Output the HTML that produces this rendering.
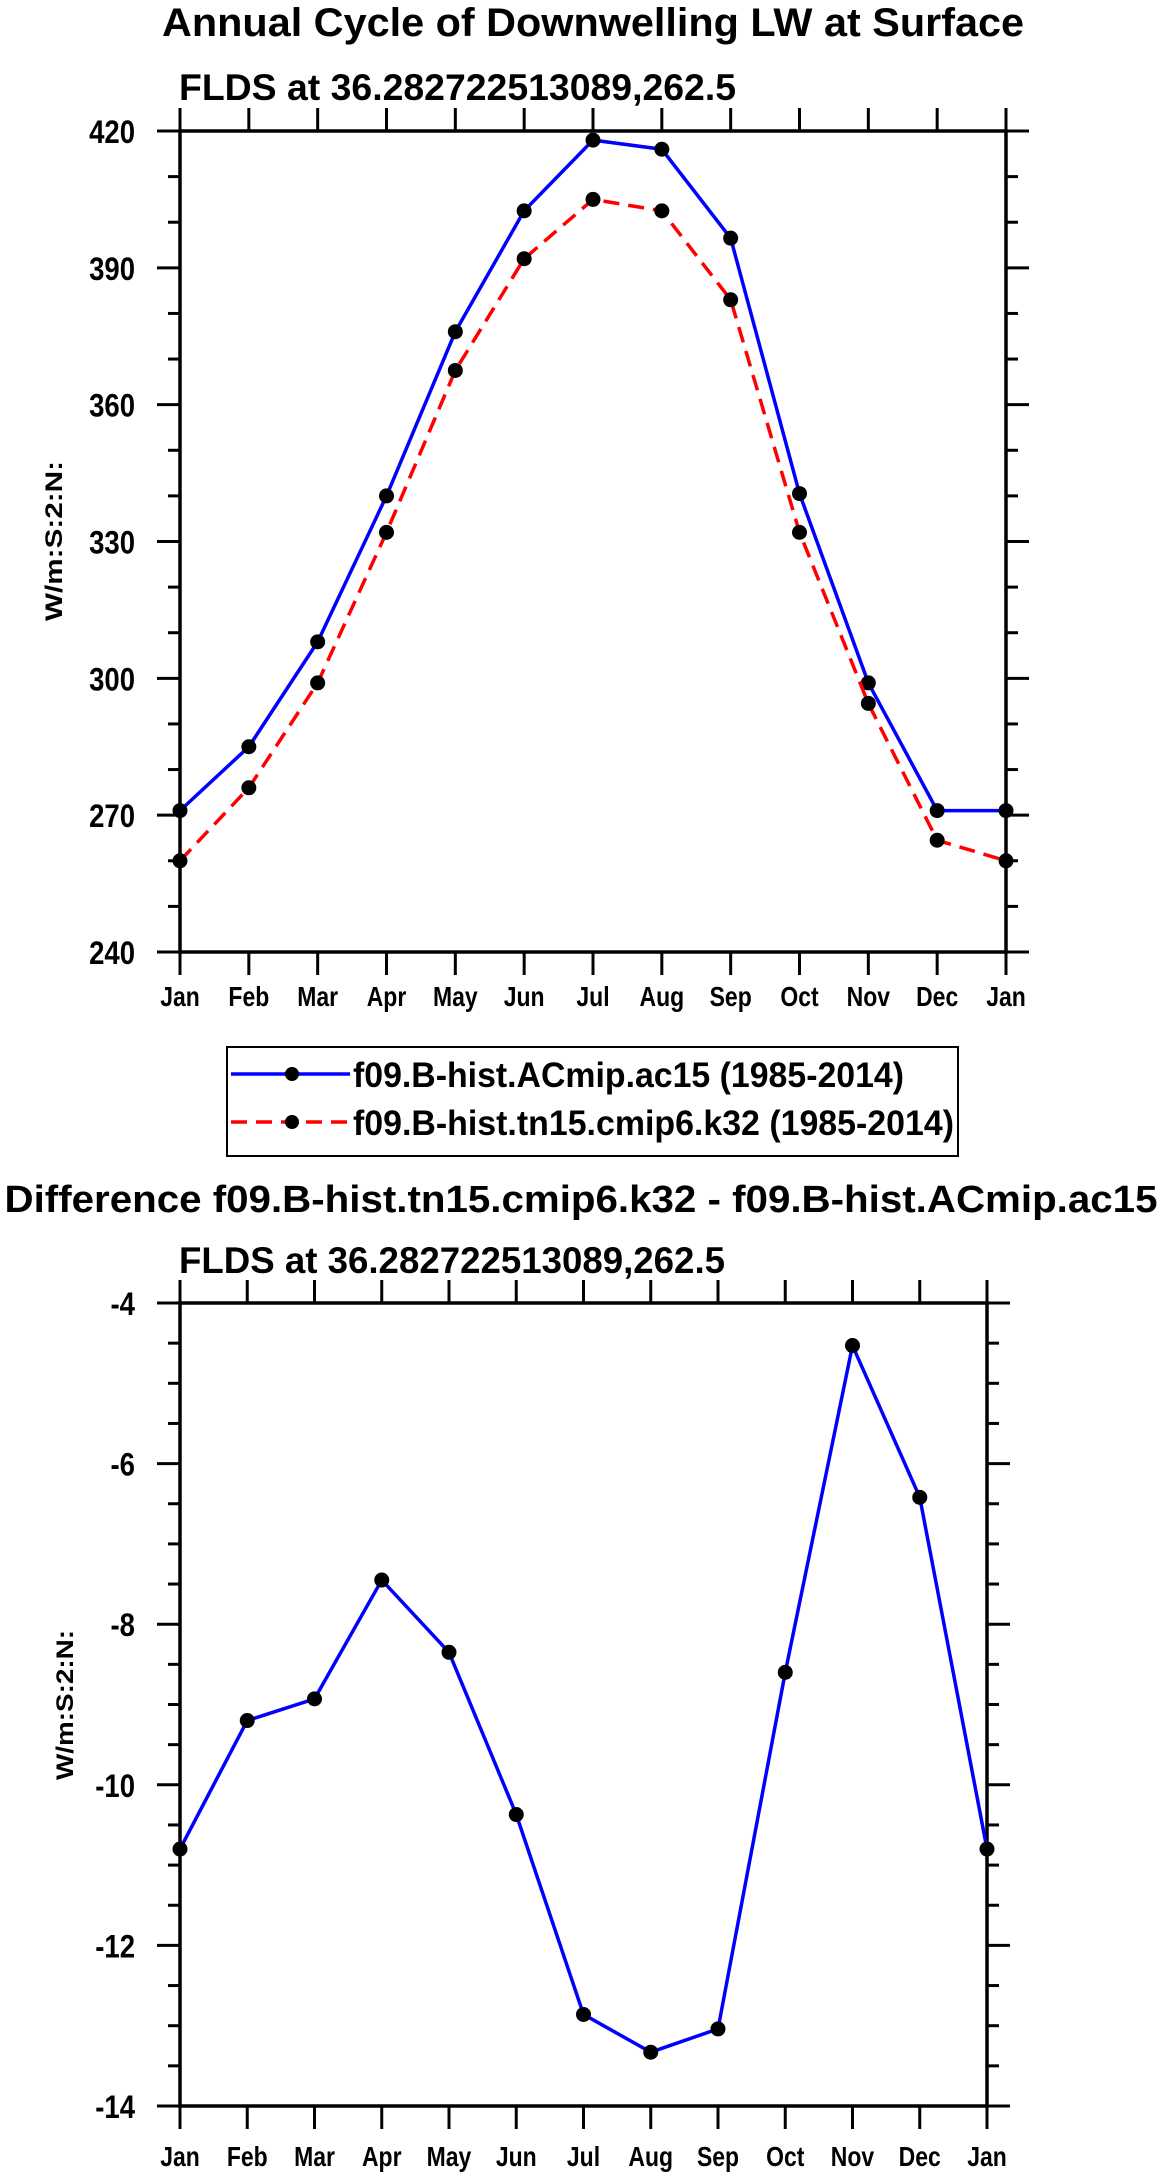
<!DOCTYPE html>
<html><head><meta charset="utf-8"><style>
html,body{margin:0;padding:0;background:#fff;}
svg{display:block;font-family:"Liberation Sans",sans-serif;font-weight:bold;}
</style></head><body>
<svg id="s" width="1161" height="2179" viewBox="0 0 1161 2179">
<text x="593" y="36" font-size="40" text-anchor="middle" textLength="862" lengthAdjust="spacingAndGlyphs">Annual Cycle of Downwelling LW at Surface</text>
<text x="179" y="100" font-size="37" textLength="557" lengthAdjust="spacingAndGlyphs">FLDS at 36.282722513089,262.5</text>
<text x="0" y="0" font-size="24" text-anchor="middle" textLength="160" lengthAdjust="spacingAndGlyphs" transform="translate(62,541) rotate(-90)">W/m:S:2:N:</text>
<g id="top"></g>
<g>
<rect x="227" y="1047" width="731" height="109" fill="none" stroke="#000" stroke-width="2"/>
<line x1="231" y1="1074" x2="350" y2="1074" stroke="#0000ff" stroke-width="3.5"/>
<circle cx="292" cy="1074" r="7" fill="#000"/>
<text x="353" y="1087" font-size="35" textLength="551" lengthAdjust="spacingAndGlyphs">f09.B-hist.ACmip.ac15 (1985-2014)</text>
<line x1="231" y1="1122" x2="350" y2="1122" stroke="#ff0000" stroke-width="3.5" stroke-dasharray="16,9"/>
<circle cx="292" cy="1122" r="7" fill="#000"/>
<text x="353" y="1135" font-size="35" textLength="601" lengthAdjust="spacingAndGlyphs">f09.B-hist.tn15.cmip6.k32 (1985-2014)</text>
</g>
<text x="581" y="1212" font-size="38" text-anchor="middle" textLength="1153" lengthAdjust="spacingAndGlyphs">Difference f09.B-hist.tn15.cmip6.k32 - f09.B-hist.ACmip.ac15</text>
<text x="179" y="1273" font-size="37" textLength="546" lengthAdjust="spacingAndGlyphs">FLDS at 36.282722513089,262.5</text>
<text x="0" y="0" font-size="24" text-anchor="middle" textLength="150" lengthAdjust="spacingAndGlyphs" transform="translate(73,1705) rotate(-90)">W/m:S:2:N:</text>
<g id="bot"></g>
</svg>
<script>
const months = ["Jan","Feb","Mar","Apr","May","Jun","Jul","Aug","Sep","Oct","Nov","Dec","Jan"];
const ac15 = [271,285,308,340,376,402.5,418,416,396.5,340.5,299,271,271];
const k32 = [260,276,299,332,367.5,392,405,402.5,383,332,294.5,264.5,260];
const diff = [-10.8,-9.2,-8.93,-7.45,-8.35,-10.37,-12.86,-13.33,-13.04,-8.6,-4.53,-6.42,-10.8];
const topTicks = [240,270,300,330,360,390,420];
const botTicks = [-14,-12,-10,-8,-6,-4];
const NS="http://www.w3.org/2000/svg";
function mk(parent,tag,attrs){const e=document.createElementNS(NS,tag);for(const k in attrs)e.setAttribute(k,attrs[k]);parent.appendChild(e);return e;}
function squeeze(t,f){const w=t.getComputedTextLength();t.setAttribute('textLength',w*f);t.setAttribute('lengthAdjust','spacingAndGlyphs');}
function chart(g,o){
  const xs=i=>o.x0+(o.x1-o.x0)*i/(months.length-1);
  const ys=v=>o.y1+(o.y0-o.y1)*(v-o.vmin)/(o.vmax-o.vmin);
  for(let v=o.vmin;v<=o.vmax+1e-9;v+=o.minor){
    const y=ys(v);const major=o.ticks.some(t=>Math.abs(t-v)<1e-6);const L=major?23:12;
    const a=mk(g,'line',{x1:o.x0-L,x2:o.x0,y1:y,y2:y,stroke:'#000','stroke-width':3});
    
    const b=mk(g,'line',{x1:o.x1,x2:o.x1+L,y1:y,y2:y,stroke:'#000','stroke-width':3});
    
  }
  o.ticks.forEach(t=>{
    const tx=mk(g,'text',{x:o.x0-45,y:ys(t)+12,'font-size':32,'text-anchor':'end'});tx.textContent=t;
    
    squeeze(tx,0.86);
  });
  months.forEach((m,i)=>{
    const x=xs(i);
    const a=mk(g,'line',{x1:x,x2:x,y1:o.y0-23,y2:o.y0,stroke:'#000','stroke-width':3});
    
    const b=mk(g,'line',{x1:x,x2:x,y1:o.y1,y2:o.y1+23,stroke:'#000','stroke-width':3});
    
    const tx=mk(g,'text',{x:x,y:o.ly,'font-size':28,'text-anchor':'middle'});tx.textContent=m;
    
    squeeze(tx,0.82);
  });
  const fr=mk(g,'rect',{x:o.x0,y:o.y0,width:o.x1-o.x0,height:o.y1-o.y0,fill:'none',stroke:'#000','stroke-width':3.5});
  
  o.series.forEach(s=>{
    const p=mk(g,'polyline',{points:s.d.map((v,i)=>xs(i)+','+ys(v)).join(' '),fill:'none',stroke:s.c,'stroke-width':3.5,'stroke-dasharray':s.dash||'none'});
    
    s.d.forEach((v,i)=>{
      const c=mk(g,'circle',{cx:xs(i),cy:ys(v),r:7.5,fill:'#000'});
      
    });
  });
}
chart(document.getElementById('top'),{x0:180,x1:1006,y0:131,y1:952,vmin:240,vmax:420,minor:10,ticks:topTicks,ly:1006,
  series:[{d:ac15,c:'#0000ff',name:'ac15'},{d:k32,c:'#ff0000',dash:'16,9',name:'k32'}]});
chart(document.getElementById('bot'),{x0:180,x1:987,y0:1303,y1:2106,vmin:-14,vmax:-4,minor:0.5,ticks:botTicks,ly:2166,
  series:[{d:diff,c:'#0000ff',name:'diff'}]});
</script>
</body></html>
